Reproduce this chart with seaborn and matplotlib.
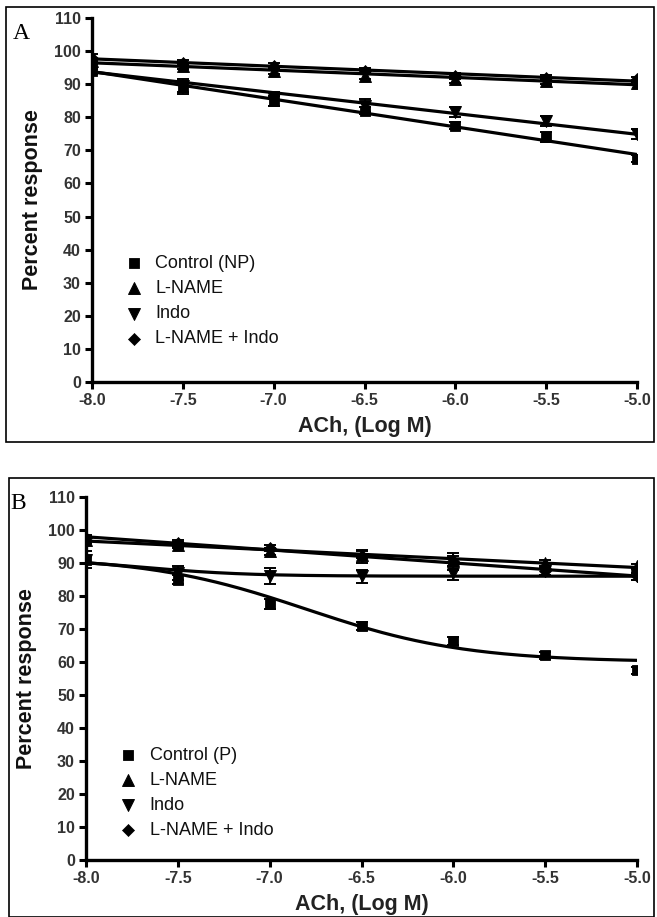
import numpy as np
import pandas as pd
import matplotlib
matplotlib.use("Agg")
import matplotlib.pyplot as plt
from matplotlib.patches import Rectangle
import seaborn as sns

sns.set_theme(style="ticks")
plt.rcParams['font.family'] = ['Liberation Sans', 'DejaVu Sans']

log_ach = [-8.0, -7.5, -7.0, -6.5, -6.0, -5.5, -5.0]

# Panel A (non-pregnant)
a_labels = ["Control (NP)", "L-NAME", "Indo", "L-NAME + Indo"]
a_control = [94.0, 89.0, 85.0, 82.0, 77.5, 74.0, 67.5]
a_lname = [97.0, 95.5, 94.0, 92.5, 91.5, 91.0, 90.5]
a_indo = [96.0, 89.5, 85.5, 83.5, 81.5, 79.0, 75.0]
a_both = [98.0, 96.5, 95.5, 94.0, 92.5, 92.0, 91.5]
a_control_sem = [1.0, 2.0, 1.5, 1.0, 1.0, 1.5, 1.0]
a_lname_sem = [1.0, 1.0, 1.0, 1.0, 1.0, 0.8, 0.8]
a_indo_sem = [1.5, 2.0, 2.0, 2.0, 1.5, 1.5, 1.5]
a_both_sem = [1.0, 0.8, 0.8, 0.8, 0.8, 0.8, 0.8]

# Panel B (pregnant)
b_labels = ["Control (P)", "L-NAME", "Indo", "L-NAME + Indo"]
b_control = [91.0, 85.0, 77.5, 71.0, 66.5, 62.0, 57.5]
b_lname = [97.0, 95.5, 93.5, 92.5, 91.0, 90.0, 89.0]
b_indo = [91.0, 87.0, 86.0, 86.0, 87.0, 87.5, 86.0]
b_both = [97.5, 96.0, 94.5, 92.0, 90.5, 87.5, 86.0]
b_control_sem = [1.0, 1.5, 1.5, 1.2, 1.2, 1.0, 1.0]
b_lname_sem = [1.0, 1.0, 1.0, 1.0, 1.0, 0.8, 0.8]
b_indo_sem = [2.5, 2.0, 2.5, 2.0, 2.0, 1.0, 1.0]
b_both_sem = [1.0, 1.0, 1.0, 2.0, 2.5, 1.0, 1.0]

# Fitted curve per series: "lin" -> straight-line fit; tuple -> sigmoid (top, bottom, logEC50, slope)
a_fits = ["lin", "lin", "lin", "lin"]
b_fits = [(92.0, 60.0, -6.8, 1.0), "lin", (91.5, 86.0, -7.7, 1.5), "lin"]

markers = ['s', '^', 'v', 'D']
msizes = [6.0, 7.0, 7.0, 5.0]


def sigmoid(x, p):
    top, bottom, ec50, n = p
    return bottom + (top - bottom) / (1 + 10 ** ((x - ec50) * n))


def draw_panel(ax, labels, series, sems, fits, letter, leg_y, letter_x, letter_y):
    xs = np.linspace(-8.0, -5.0, 200)
    for i in range(4):
        y = np.array(series[i])
        f = fits[i]
        if f == "lin":
            yf = np.polyval(np.polyfit(log_ach, y, 1), xs)
        else:
            yf = sigmoid(xs, f)
        df = pd.DataFrame({"x": xs, "y": yf})
        sns.lineplot(data=df, x="x", y="y", ax=ax, color="black", lw=2.3,
                     legend=False, zorder=2)
    for i in range(4):
        ax.errorbar(log_ach, series[i], yerr=sems[i], fmt='none', ecolor='black',
                    elinewidth=1.4, capsize=4, capthick=1.4, zorder=3)
        df = pd.DataFrame({"x": log_ach, "y": series[i]})
        sns.scatterplot(data=df, x="x", y="y", ax=ax, marker=markers[i],
                        s=msizes[i] ** 2 * 1.5, color="black", edgecolor="black",
                        label=labels[i], zorder=4)
    ax.set_xlim(-8.0, -5.0)
    ax.set_ylim(0, 110)
    ax.set_xticks(log_ach)
    ax.set_xticklabels([f"{v:.1f}" for v in log_ach])
    ax.set_yticks(np.arange(0, 111, 10))
    for s in ['top', 'right']:
        ax.spines[s].set_visible(False)
    for s in ['left', 'bottom']:
        ax.spines[s].set_linewidth(2.4)
        ax.spines[s].set_color('black')
    ax.tick_params(axis='both', direction='out', length=5, width=2.2,
                   labelsize=11.5, colors='black', pad=3)
    for t in ax.get_xticklabels() + ax.get_yticklabels():
        t.set_fontweight('bold')
        t.set_color('#333333')
    ax.set_xlabel("ACh, (Log M)", fontsize=15.5, fontweight='bold', color='#222222', labelpad=6)
    ax.set_ylabel("Percent response", fontsize=15.5, fontweight='bold', color='#111111', labelpad=8)
    leg = ax.legend(loc='lower left', bbox_to_anchor=(0.06, leg_y), frameon=False,
                    fontsize=13, handletextpad=0.7, labelspacing=0.45,
                    handlelength=1.0, borderaxespad=0, borderpad=0)
    for t in leg.get_texts():
        t.set_color('#111111')
    ax.text(letter_x, letter_y, letter, transform=ax.transAxes,
            fontsize=17, family='Liberation Serif', color='black', va='top', ha='left')


fig = plt.figure(figsize=(6.57, 9.17), dpi=100)

axA = fig.add_axes([92 / 657, 1 - 382 / 917, (637 - 92) / 657, (382 - 18) / 917])
draw_panel(axA, a_labels, [a_control, a_lname, a_indo, a_both],
           [a_control_sem, a_lname_sem, a_indo_sem, a_both_sem], a_fits, "A",
           0.095, -0.145, 0.985)

axB = fig.add_axes([86 / 657, 1 - 860 / 917, (637 - 86) / 657, (860 - 497) / 917])
draw_panel(axB, b_labels, [b_control, b_lname, b_indo, b_both],
           [b_control_sem, b_lname_sem, b_indo_sem, b_both_sem], b_fits, "B",
           0.058, -0.138, 1.012)

# panel frames
fig.patches.append(Rectangle((6 / 657, 1 - 442 / 917), (654 - 6) / 657, (442 - 7) / 917,
                             transform=fig.transFigure, fill=False, lw=1.2,
                             edgecolor='black'))
fig.patches.append(Rectangle((9 / 657, 1 - 917 / 917), (654 - 9) / 657, (917 - 478) / 917,
                             transform=fig.transFigure, fill=False, lw=1.2,
                             edgecolor='black'))

fig.savefig("out.png", dpi=100)
